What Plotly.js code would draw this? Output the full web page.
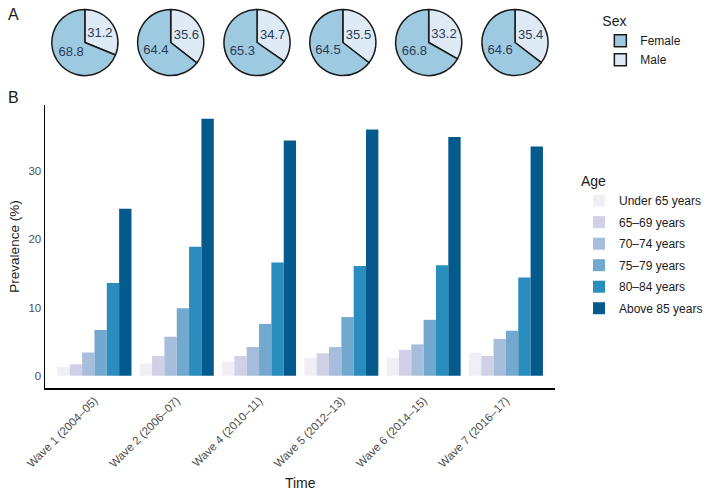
<!DOCTYPE html>
<html>
<head>
<meta charset="utf-8">
<script src="https://cdn.plot.ly/plotly-3.0.1.min.js"></script>
<style>html,body{margin:0;padding:0;background:#fff}#chart{width:708px;height:491px}</style>
</head>
<body>
<div id="chart"></div>
<script>
const waves = ['Wave 1 (2004–05)', 'Wave 2 (2006–07)', 'Wave 4 (2010–11)', 'Wave 5 (2012–13)', 'Wave 6 (2014–15)', 'Wave 7 (2016–17)'];
const ageGroups = ['Under 65 years', '65–69 years', '70–74 years', '75–79 years', '80–84 years', 'Above 85 years'];
const under65 = [1.3, 1.8, 2.1, 2.6, 2.6, 3.4];
const age6569 = [1.7, 2.9, 2.9, 3.3, 3.8, 2.9];
const age7074 = [3.4, 5.7, 4.2, 4.2, 4.6, 5.4];
const age7579 = [6.7, 9.9, 7.6, 8.6, 8.2, 6.6];
const age8084 = [13.6, 18.9, 16.6, 16.1, 16.2, 14.4];
const age85plus = [24.5, 37.7, 34.5, 36.1, 35.0, 33.6];
const sexLabels = ['Male', 'Female'];
const malePct = [31.2, 35.6, 34.7, 35.5, 33.2, 35.4];
const femalePct = [68.8, 64.4, 65.3, 64.5, 66.8, 64.6];
const yTicks = [0, 10, 20, 30];

const ageSeries = [under65, age6569, age7074, age7579, age8084, age85plus];
const ageColors = ['#f1eef6', '#d0d1e6', '#a6bddb', '#74a9cf', '#2b8cbe', '#045a8d'];
const sexColors = ['#deebf7', '#9ecae1'];

const W = 708, H = 491;
const traces = [];
ageGroups.forEach((g, i) => {
  traces.push({
    type: 'bar', name: g, x: waves, y: ageSeries[i],
    marker: {color: ageColors[i], line: {width: 0}},
    legend: 'legend', legendgroup: 'age' + i, hoverinfo: 'skip'
  });
});

const pieCx = [88.5, 178, 268, 357.5, 447, 537];
const pieCy = 42.5, pieR = 34.5;
waves.forEach((w, i) => {
  traces.push({
    type: 'pie', labels: sexLabels, values: [malePct[i], femalePct[i]],
    sort: false, direction: 'clockwise', rotation: 0,
    marker: {colors: sexColors, line: {color: '#1a1a1a', width: 1.5}},
    textinfo: 'value', textposition: 'inside', insidetextorientation: 'horizontal',
    textfont: {family: 'Liberation Sans, Arial, sans-serif', size: 13, color: '#2b3a55'},
    domain: {x: [(pieCx[i] - pieR) / W, (pieCx[i] + pieR) / W], y: [(H - pieCy - pieR) / H, (H - pieCy + pieR) / H]},
    legend: 'legend2', showlegend: i === 0, hoverinfo: 'skip'
  });
});

const font = {family: 'Liberation Sans, Arial, sans-serif', color: '#1a1a1a'};
const layout = {
  width: W, height: H,
  margin: {l: 0, r: 0, t: 0, b: 0},
  paper_bgcolor: '#fff', plot_bgcolor: '#fff',
  font: font,
  barmode: 'group', bargap: 0.1, bargroupgap: 0,
  xaxis: {
    domain: [47 / W, 579 / W], type: 'category',
    range: [-0.6, 5.6], tickangle: -45,
    showline: true, linecolor: '#000', linewidth: 1.5,
    ticks: '', showgrid: false, zeroline: false,
    tickfont: {size: 11.5, color: '#4d4d4d'},
    title: {text: 'Time', font: {size: 14, color: '#1a1a1a'}, standoff: 13}
  },
  yaxis: {
    domain: [(H - 388) / H, (H - 105) / H],
    range: [-1.8, 39.7], tickvals: yTicks,
    showline: true, linecolor: '#000', linewidth: 1.5,
    ticks: '', showgrid: false, zeroline: false,
    tickfont: {size: 11.5, color: '#4d4d4d'},
    title: {text: 'Prevalence (%)', font: {size: 13.5, color: '#1a1a1a'}, standoff: 6}
  },
  legend: {
    x: 604 / W, y: (H - 168) / H, xanchor: 'left', yanchor: 'top',
    title: {text: 'Age', font: {size: 14}},
    font: {size: 12, color: '#1a1a1a'}, tracegroupgap: 2.5,
    bgcolor: 'rgba(0,0,0,0)'
  },
  legend2: {
    x: 626 / W, y: (H - 8) / H, xanchor: 'left', yanchor: 'top',
    title: {text: 'Sex', font: {size: 14}},
    font: {size: 12, color: '#1a1a1a'}, traceorder: 'reversed',
    bgcolor: 'rgba(0,0,0,0)'
  },
  annotations: [
    {text: 'A', x: 6 / W, y: (H - 14) / H, xref: 'paper', yref: 'paper', xanchor: 'left', yanchor: 'middle', showarrow: false, font: {size: 16, color: '#1a1a1a'}},
    {text: 'B', x: 6 / W, y: (H - 98) / H, xref: 'paper', yref: 'paper', xanchor: 'left', yanchor: 'middle', showarrow: false, font: {size: 16, color: '#1a1a1a'}}
  ]
};
Plotly.newPlot('chart', traces, layout, {staticPlot: true, displayModeBar: false});
</script>
</body>
</html>
